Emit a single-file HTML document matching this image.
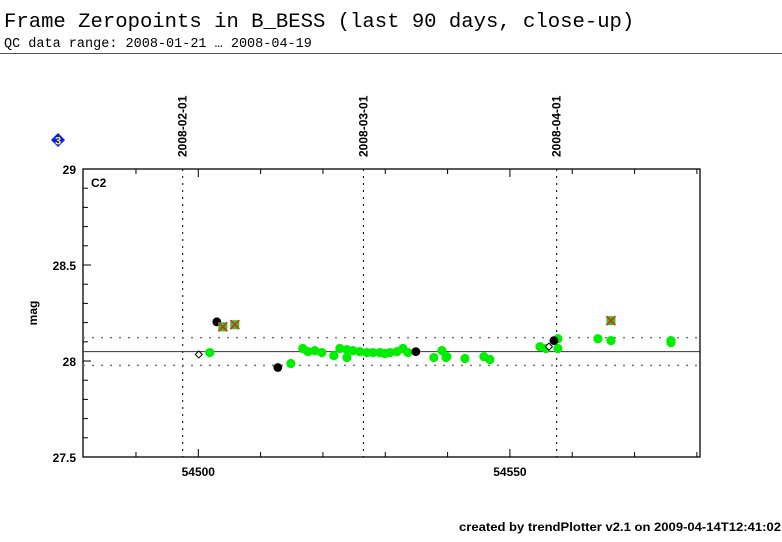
<!DOCTYPE html>
<html><head><meta charset="utf-8"><style>
body{margin:0;background:#fff;width:782px;height:542px;overflow:hidden}
svg{display:block}
.t{font-family:"Liberation Sans",sans-serif;font-weight:bold;font-size:12px;fill:#000}
</style></head><body>
<svg id="c" width="782" height="542">
<text x="4" y="27" font-family="Liberation Mono,monospace" font-size="20.6">Frame Zeropoints in B_BESS (last 90 days, close-up)</text>
<text x="4" y="47" font-family="Liberation Mono,monospace" font-size="13.5">QC data range: 2008-01-21 … 2008-04-19</text>
<line x1="0" y1="53.5" x2="782" y2="53.5" stroke="#555" stroke-width="1"/>
<g><polygon points="58,133 65,140 58,147 51,140" fill="#0a1aff"/><text x="58" y="144.5" text-anchor="middle" font-family="Liberation Sans,sans-serif" font-weight="bold" font-size="11" fill="#ff0">3</text></g>
<text class="t" x="459" y="531" font-size="12" textLength="322" lengthAdjust="spacingAndGlyphs">created by trendPlotter v2.1 on 2009-04-14T12:41:02</text>
<text class="t" transform="translate(37,313) rotate(-90)" text-anchor="middle">mag</text>
<text class="t" x="91" y="187" font-size="14" font-weight="normal">C2</text>
<g id="g"></g>
</svg>
<script>
const xTicks=[54490,54500,54510,54520,54530,54540,54550,54560,54570,54580];
const xLabels=[54500,54550];
const yLabels=[27.5,28,28.5,29];
const dateMjd=[54497.5,54526.5,54557.5];
const dateLabels=["2008-02-01","2008-03-01","2008-04-01"];
const refMean=28.049, refUpper=28.122, refLower=27.977;
const greenMjd=[54501.85,54514.85,54516.77,54517.58,54518.70,54519.82,54521.75,54522.71,54523.84,54523.84,54524.80,54525.92,54527.05,54528.01,54529.13,54529.94,54530.74,54531.86,54532.83,54533.63,54537.80,54539.09,54539.73,54539.89,54542.78,54545.83,54546.79,54554.82,54555.78,54557.70,54557.70,54564.12,54566.21,54575.84,54575.84];
const greenMag=[28.044,27.987,28.065,28.049,28.054,28.044,28.028,28.065,28.059,28.018,28.054,28.049,28.044,28.044,28.044,28.039,28.044,28.049,28.065,28.044,28.018,28.054,28.018,28.023,28.013,28.023,28.008,28.075,28.065,28.116,28.065,28.116,28.106,28.106,28.096];
const blackMjd=[54502.97,54512.76,54534.91,54557.06];
const blackMag=[28.204,27.966,28.049,28.106];
const openMjd=[54500.08,54556.26];
const openMag=[28.034,28.075];
const flagMjd=[54503.93,54505.86,54566.21];
const flagMag=[28.178,28.189,28.210];

const L=83,R=700,T=169,B=457,x0=54481.5,x1=54580.5,y0=27.5,y1=29;
const X=v=>L+(v-x0)/(x1-x0)*(R-L), Y=v=>B-(v-y0)/(y1-y0)*(B-T);
const g=document.getElementById('g'),NS='http://www.w3.org/2000/svg';
function mk(t,a,txt){const e=document.createElementNS(NS,t);for(const k in a)e.setAttribute(k,a[k]);if(txt!=null)e.textContent=txt;g.appendChild(e);return e;}
let e;
e=mk('rect',{x:L,y:T,width:R-L,height:B-T,fill:'none',stroke:'#000','stroke-width':1.3});


xTicks.forEach(v=>{const len=(v%50===0)?8:5;
 e=mk('line',{x1:X(v),x2:X(v),y1:B,y2:B-len,stroke:'#000'});
 
 
 e=mk('line',{x1:X(v),x2:X(v),y1:T,y2:T+len,stroke:'#000'});
 
 });
xLabels.forEach(v=>{e=mk('text',{x:X(v),y:B+19,'text-anchor':'middle',class:'t'},String(v));
 
 });
for(let v=27.6;v<29;v+=0.1){const len=Math.abs(v*2-Math.round(v*2))<0.01?8:5;
 e=mk('line',{x1:L,x2:L+len,y1:Y(v),y2:Y(v),stroke:'#000'});
 
 }
yLabels.forEach(v=>{e=mk('text',{x:L-7,y:Y(v)+5,'text-anchor':'end',class:'t'},String(v));
 
 });
dateMjd.forEach((v,i)=>{
 e=mk('line',{x1:X(v),x2:X(v),y1:T,y2:B,stroke:'#000','stroke-dasharray':'2,5'});
 
 
 e=mk('text',{class:'t',transform:`translate(${X(v)+4},157) rotate(-90)`},dateLabels[i]);
 
 });
[refUpper,refLower].forEach(v=>{e=mk('line',{x1:L,x2:R,y1:Y(v),y2:Y(v),stroke:'#777','stroke-width':1.5,'stroke-dasharray':'2,7'});
 
 });
e=mk('line',{x1:L,x2:R,y1:Y(refMean),y2:Y(refMean),stroke:'#333'});


greenMjd.forEach((v,i)=>{e=mk('circle',{cx:X(v),cy:Y(greenMag[i]),r:4.6,fill:'#0e0'});
 
 });
blackMjd.forEach((v,i)=>{e=mk('circle',{cx:X(v),cy:Y(blackMag[i]),r:4.4,fill:'#000'});
 
 });
openMjd.forEach((v,i)=>{const x=X(v),y=Y(openMag[i]);
 e=mk('polygon',{points:`${x},${y-3.5} ${x+3.5},${y} ${x},${y+3.5} ${x-3.5},${y}`,fill:'#fff',stroke:'#000'});
 
 });
flagMjd.forEach((v,i)=>{const x=X(v),y=Y(flagMag[i]);
 e=mk('rect',{x:x-4.5,y:y-4.5,width:9,height:9,fill:'#2c2'});
 
 
 e=mk('path',{d:`M${x-4.5},${y-4.5}L${x+4.5},${y+4.5}M${x+4.5},${y-4.5}L${x-4.5},${y+4.5}`,stroke:'#e22','stroke-width':1.5});
 
 });
</script>
</body></html>
